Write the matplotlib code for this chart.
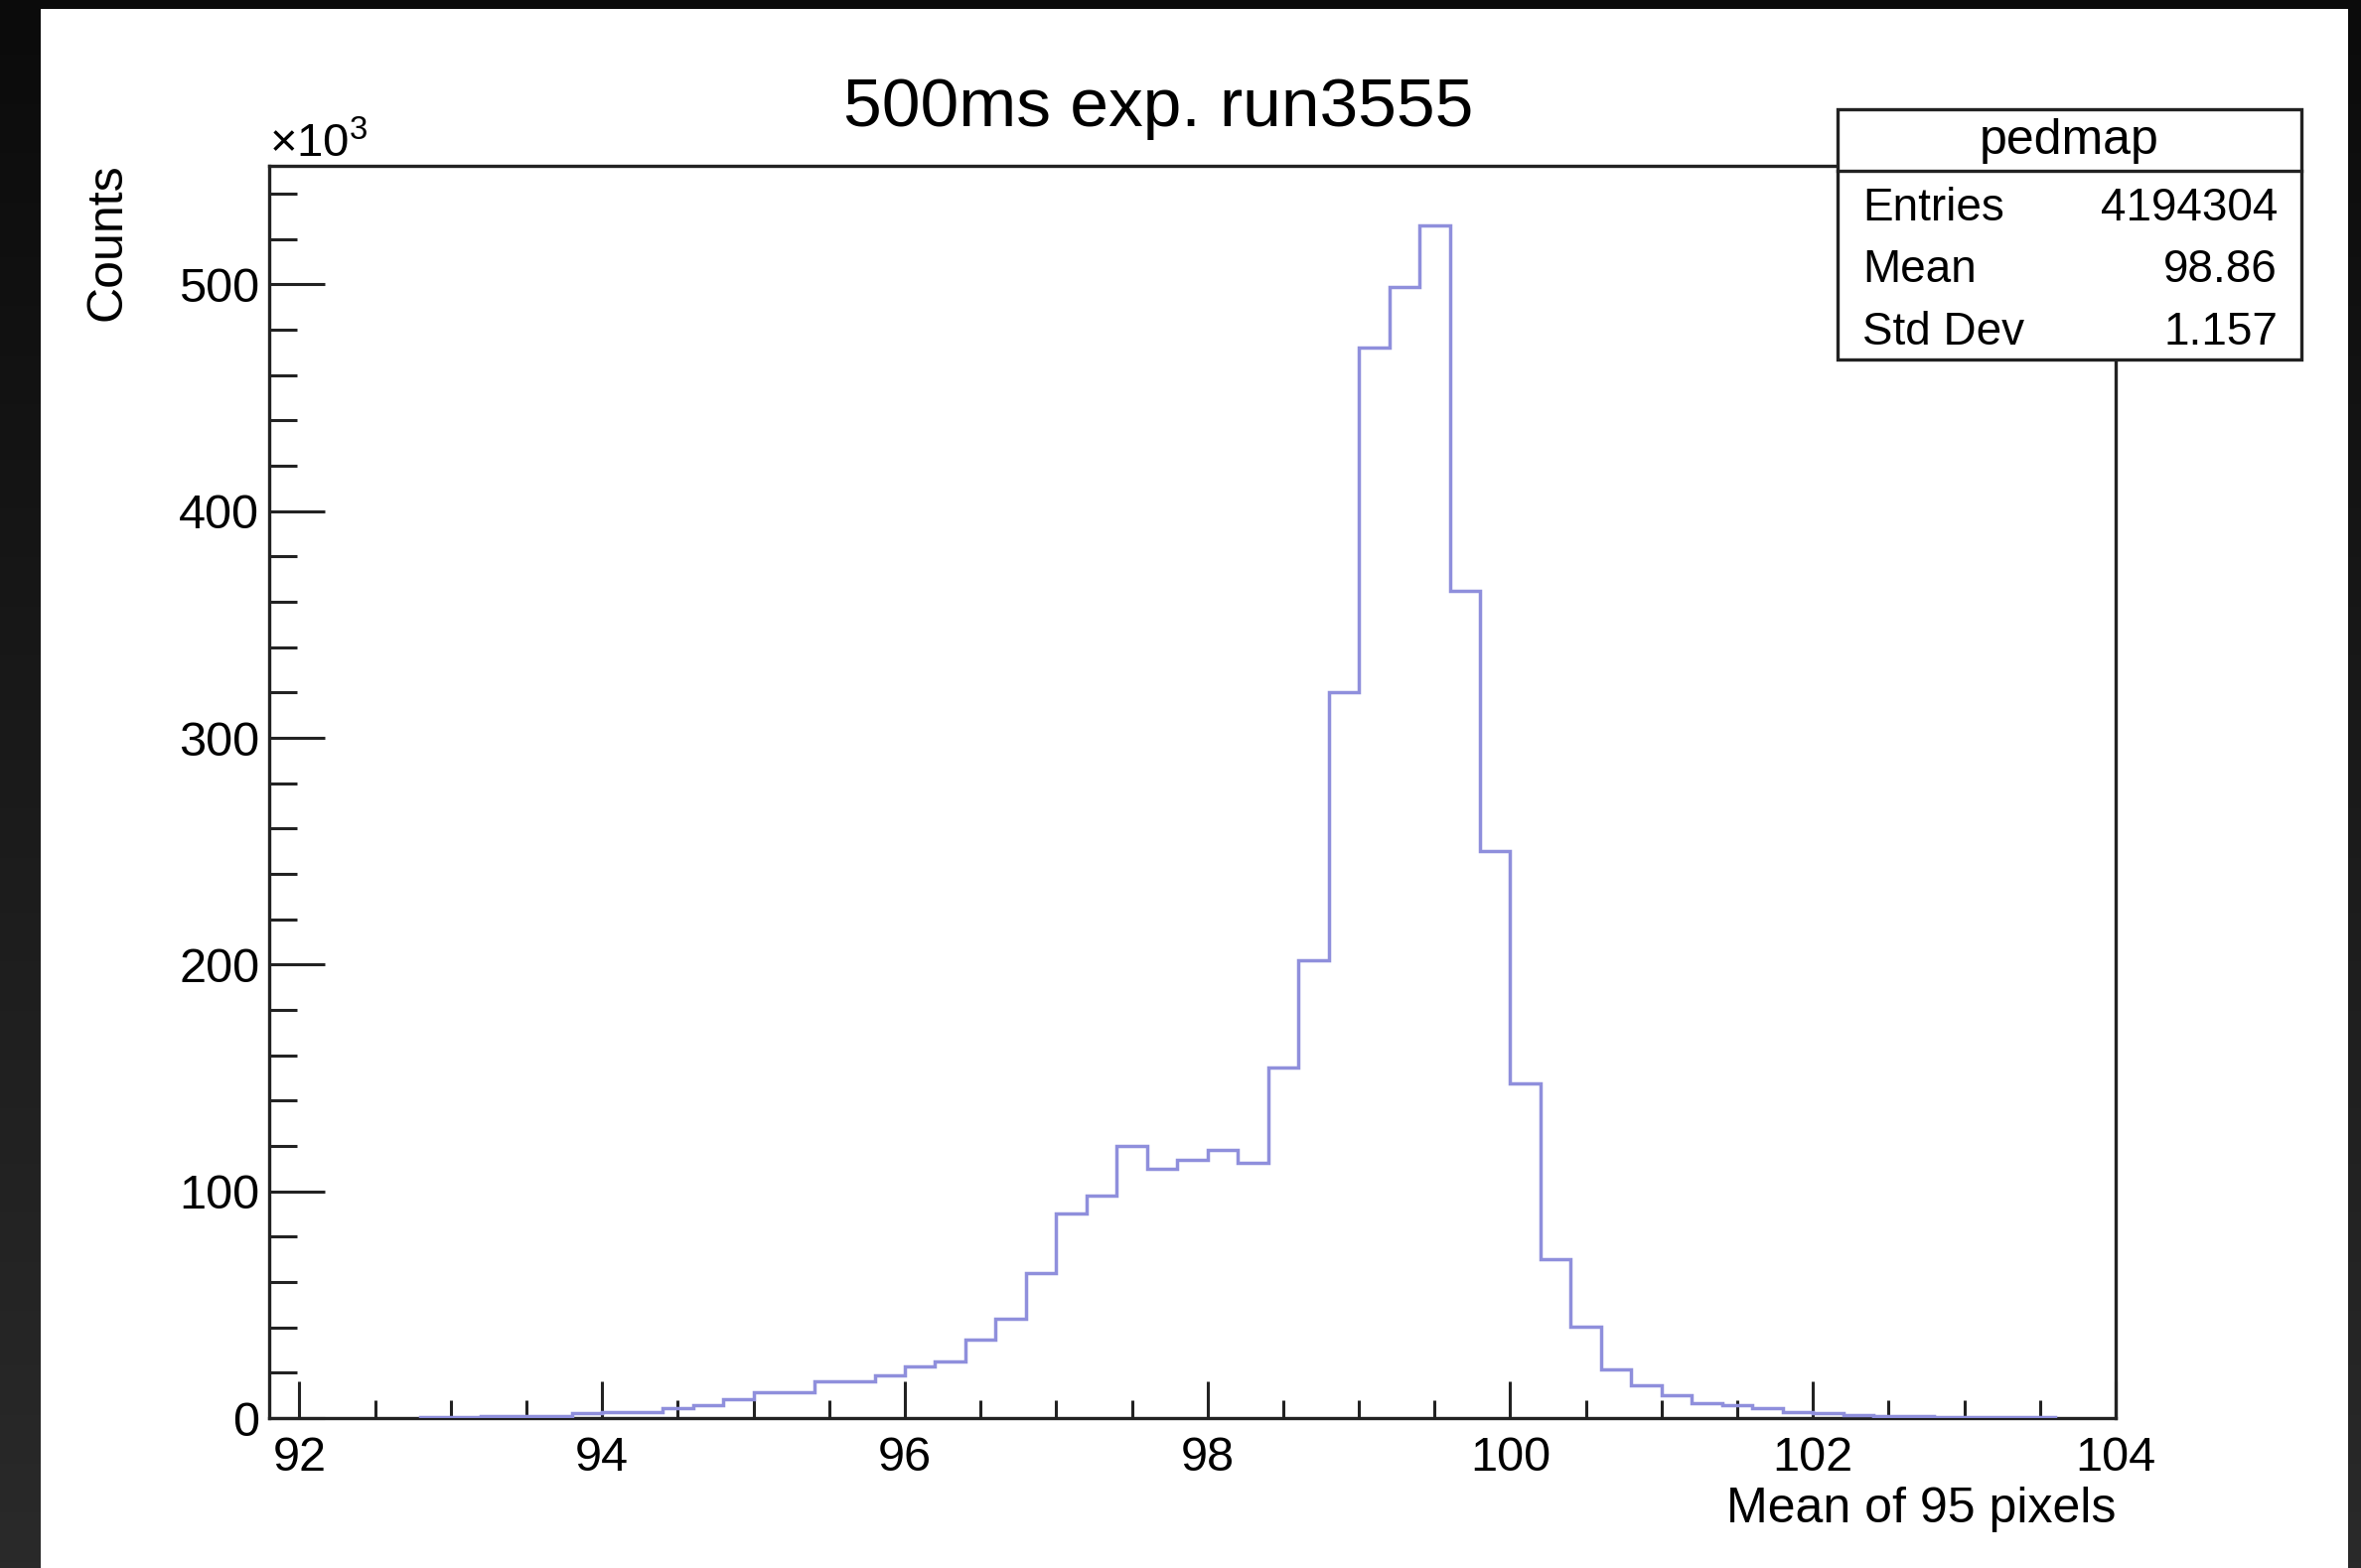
import numpy as np
import matplotlib
matplotlib.use('Agg')
import matplotlib.pyplot as plt
from matplotlib.patches import Rectangle
from matplotlib.lines import Line2D
from matplotlib.ticker import MultipleLocator

plt.rcParams['font.family'] = ['Liberation Sans', 'DejaVu Sans']
plt.rcParams['mathtext.fontset'] = 'custom'
plt.rcParams['mathtext.rm'] = 'Liberation Sans'

# histogram definition (bins of 0.2 starting at 92.8)
first_edge = 92.8
bin_width = 0.2
# counts per bin, in units of 10^3
counts_k = [
    0.5, 0.6, 0.7, 0.8, 1.0, 2.2, 2.5, 2.8, 4.4, 5.5,
    8.5, 11.4, 11.6, 16.0, 16.4, 18.7, 22.7, 24.8, 34.6, 43.9,
    64.0, 90.4, 98.1, 119.8, 109.8, 114.0, 118.3, 112.6, 154.7, 202.0,
    320.0, 472.0, 499.0, 526.0, 365.0, 250.0, 147.5, 69.9, 40.5, 21.6,
    14.3, 9.9, 6.7, 5.5, 4.4, 2.8, 2.4, 1.4, 1.0, 0.8,
    0.6, 0.5, 0.4, 0.3,
]

title = '500ms exp. run3555'
x_title = 'Mean of 95 pixels'
y_title = 'Counts'
stats_name = 'pedmap'
stats_labels = ['Entries', 'Mean', 'Std Dev']
stats_values = ['4194304', '98.86', '1.157']
x_major = [92, 94, 96, 98, 100, 102, 104]
y_major = [0, 100, 200, 300, 400, 500]

W, H = 2377, 1579
fig = plt.figure(figsize=(W / 100, H / 100), dpi=100)

def fx(px):
    return px / W

def fy(py):
    return 1 - py / H

# dark window frame behind the white canvas
bg = fig.add_axes([0, 0, 1, 1], zorder=-10)
grad = np.linspace(0, 1, 256).reshape(-1, 1)
bg.imshow(grad, aspect='auto', cmap=matplotlib.colors.LinearSegmentedColormap.from_list(
    'frame', ['#0b0b0b', '#2a2a2a']), extent=[0, 1, 0, 1], origin='upper')
bg.set_axis_off()
fig.patches.append(Rectangle((fx(41), 0), fx(2364) - fx(41), fy(9), transform=fig.transFigure,
                             facecolor='white', edgecolor='none', zorder=-5))

ax = fig.add_axes([fx(271), fy(1428), fx(2130) - fx(271), fy(167) - fy(1428)])
ax.set_facecolor('white')

edges = np.round(first_edge + bin_width * np.arange(len(counts_k) + 1), 2)
ax.stairs(counts_k, edges, color='#8f8fdc', linewidth=2.5, zorder=3)

ax.set_xlim(91.8, 104)
ax.set_ylim(0, 552.3)
ax.set_xticks(x_major)
ax.set_yticks(y_major)
ax.xaxis.set_minor_locator(MultipleLocator(0.5))
ax.yaxis.set_minor_locator(MultipleLocator(20))
ax.tick_params(which='both', direction='in', top=False, right=False, color='#222222', width=2.2)
ax.tick_params(axis='x', which='major', length=26.6, labelsize=35, pad=13)
ax.tick_params(axis='x', which='minor', length=13.3)
ax.tick_params(axis='y', which='major', length=40, labelsize=35, pad=7)
ax.tick_params(axis='y', which='minor', length=20)
for s in ax.spines.values():
    s.set_linewidth(2.4)
    s.set_color('#222222')

fig.text(fx(1166), fy(127), title, ha='center', va='baseline', fontsize=50)
fig.text(fx(2130), fy(1533), x_title, ha='right', va='baseline', fontsize=36)
fig.text(fx(108), fy(164), y_title, rotation=90, ha='center', va='top', fontsize=36)
fig.text(fx(271), fy(158), r'$\mathregular{\times10^{3}}$', ha='left', va='baseline', fontsize=34)

# stats box
fig.patches.append(Rectangle((fx(1850), fy(362)), fx(2317) - fx(1850), fy(110) - fy(362),
                             transform=fig.transFigure, facecolor='white', edgecolor='#222222',
                             linewidth=2.4, zorder=5))
fig.lines.append(Line2D([fx(1850), fx(2317)], [fy(172), fy(172)], transform=fig.transFigure,
                        color='#222222', linewidth=2.4, zorder=6))
fig.text(fx(2083), fy(155), stats_name, ha='center', va='baseline', fontsize=36, zorder=7)
for i, (lab, val) in enumerate(zip(stats_labels, stats_values)):
    base = 222 + 62.5 * i
    fig.text(fx(1875), fy(base), lab, ha='left', va='baseline', fontsize=33, zorder=7)
    fig.text(fx(2293), fy(base), val, ha='right', va='baseline', fontsize=33, zorder=7)

fig.savefig('out.png', dpi=100)
